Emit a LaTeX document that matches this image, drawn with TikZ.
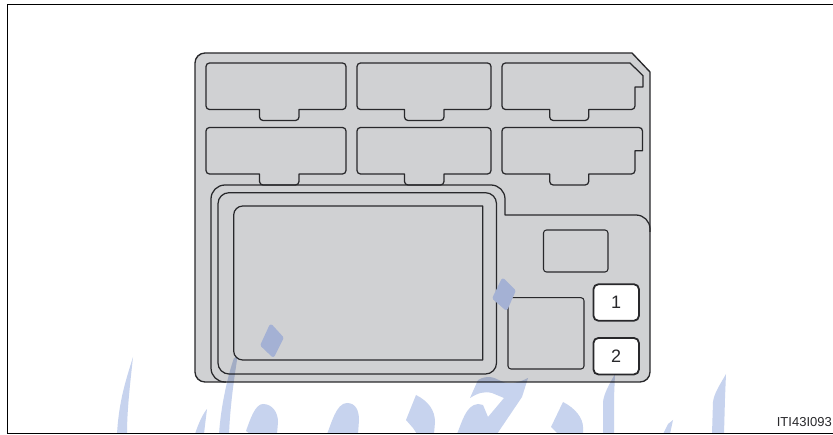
\documentclass[tikz,border=0pt]{standalone}
\usepackage{fontspec}
\setmainfont{Liberation Sans}
\definecolor{panel}{RGB}{208,209,211}
\definecolor{wm}{RGB}{199,211,238}
\definecolor{wmdark}{RGB}{164,177,212}
\definecolor{ink}{RGB}{40,40,43}
\tikzset{
  x=1pt,y=-1pt,
  panelline/.style={draw=ink,line width=1.25pt,line join=round},
  thinline/.style={draw=ink,line width=1.05pt,rounded corners=3pt},
  fuse/.style={panelline,rounded corners=3.5pt},
  btn/.style={draw=ink,line width=1.8pt,fill=white,rounded corners=5pt,minimum width=45.5pt,minimum height=36.5pt,inner sep=0pt,font=\fontsize{18}{20}\selectfont,text=ink},
  wmark/.style={fill=wm,blend mode=multiply,draw=none},
  wblob/.style={fill=wmdark,draw=wmdark,line width=4pt,line join=round}
}
\begin{document}
\begin{tikzpicture}
\useasboundingbox (0,0) rectangle (833,435);
\fill[white] (0,0) rectangle (833,435);
% panel
\draw[panelline,fill=panel,line width=1.35pt,rounded corners=9pt] (195,53) [sharp corners] -- (632,53) -- (650,72) [rounded corners=10pt] -- (650,382) -- (195,382) -- cycle;
% upper fuses
\foreach \t/\b/\tb in {63/109.5/120.5,127.5/174/185}{
  \draw[fuse] (206,\t) -- (346,\t) -- (346,\b) [sharp corners] -- (299,\b) [rounded corners=3.5pt] -- (299,\tb) -- (259.5,\tb) [sharp corners] -- (259.5,\b) [rounded corners=3.5pt] -- (206,\b) -- cycle;
  \draw[fuse] (357,\t) -- (491,\t) -- (491,\b) [sharp corners] -- (444,\b) [rounded corners=3.5pt] -- (444,\tb) -- (404.5,\tb) [sharp corners] -- (404.5,\b) [rounded corners=3.5pt] -- (357,\b) -- cycle;
}
\draw[fuse] (502,63) [sharp corners] -- (630,63) -- (643,75.7) -- (643,87) -- (635,87) [rounded corners=3.5pt] -- (635,109.5) [sharp corners] -- (588.7,109.5) [rounded corners=3.5pt] -- (588.7,120.5) -- (549.7,120.5) [sharp corners] -- (549.7,109.5) [rounded corners=3.5pt] -- (502,109.5) -- cycle;
\draw[fuse] (502,127.5) -- (642.5,127.5) [sharp corners] -- (642.5,150.7) -- (635,150.7) [rounded corners=3.5pt] -- (635,174) [sharp corners] -- (588.7,174) [rounded corners=3.5pt] -- (588.7,185) -- (549.7,185) [sharp corners] -- (549.7,174) [rounded corners=3.5pt] -- (502,174) -- cycle;
% large outline
\draw[panelline,rounded corners=14pt] (226,382) -- (211,382) -- (211,185) -- (505,185) [sharp corners] -- (505,215) [rounded corners=14pt] -- (650,215) -- (650,232);
% inner frame and screen
\draw[panelline,rounded corners=11pt] (218,192.7) rectangle (496.5,374);
\draw[panelline,rounded corners=9pt] (233.7,206) [sharp corners] -- (482.7,206) -- (482.7,360) [rounded corners=9pt] -- (233.7,360) -- cycle;
% small panels
\draw[thinline] (543.5,230) rectangle (608,272);
\draw[thinline] (508,297.7) rectangle (584,369);
% buttons
\node[btn] (one) at (616.2,302.5) {1};
\node[btn] (two) at (616.2,356.2) {2};
% watermark
\fill[wmark] (133,357) .. controls (126,380) and (119,400) .. (117,434) -- (127,434) .. controls (127,410) and (130,385) .. (133,357) -- cycle;
\fill[wmark] (207,409) .. controls (202,415) and (198,425) .. (195,434) -- (204,434) .. controls (205,425) and (206,417) .. (207,409) -- cycle;
\fill[wmark] (237.5,357) -- (234,358) .. controls (228,375) and (221,405) .. (219,434) -- (229,434) .. controls (230,410) and (233,385) .. (237.5,357) -- cycle;
\fill[wmark] (246,431) .. controls (250,420) and (255,404) .. (263,404) .. controls (272,404) and (278,412) .. (278,422) -- (277,434) -- (250,434) -- cycle;
\filldraw[wblob] (271,326.5) -- (281.5,338) -- (273,355) -- (262.5,345) -- cycle;
\filldraw[wblob] (503,280.5) -- (513.5,291) -- (506,308) -- (494.5,298) -- cycle;
\fill[wmark] (327,434) .. controls (331,425) and (336,403) .. (347,403) .. controls (356,403) and (359,411) .. (359,420) -- (358,434) -- cycle;
\fill[wmark] (416,395) .. controls (428,401) and (435,410) .. (435,422) -- (434,434) -- (417,434) -- (413,428) -- (406,420) -- cycle;
\fill[wmark] (470,398) -- (478,380) .. controls (483,377) and (487,377) .. (490,377) .. controls (498,378) and (503,384) .. (510,383) .. controls (518,383) and (524,380) .. (528,378) -- (522,397) -- (497,434) -- (457,434) .. controls (462,422) and (466,405) .. (478,404) -- (483,405) -- (488,417) -- (504,398) -- (492,393) .. controls (484,391) and (478,393) .. (470,398) -- cycle;
\fill[wmark] (563,402) .. controls (575,408) and (583,418) .. (583,427) -- (583,434) -- (558,434) -- (551,427) -- cycle;
\fill[wmark] (615,374) .. controls (610,383) and (604,393) .. (603,402) -- (603,434) -- (614,434) -- (614,398) -- cycle;
\fill[wmark] (673,420) -- (668,424) -- (663,434) -- (670,434) -- cycle;
\fill[wmark] (726,374) .. controls (721,383) and (714,393) .. (713,402) -- (712,434) -- (724,434) -- (725,398) -- cycle;
% frame
\draw[black,line width=1pt] (833,4.5) -- (7.8,4.5) -- (7.8,434) -- (833,434);
\node[anchor=base east,inner sep=0pt,font=\fontsize{13}{15}\selectfont,text=ink] (code) at (832,427) {ITI43I093};
\end{tikzpicture}
\end{document}
